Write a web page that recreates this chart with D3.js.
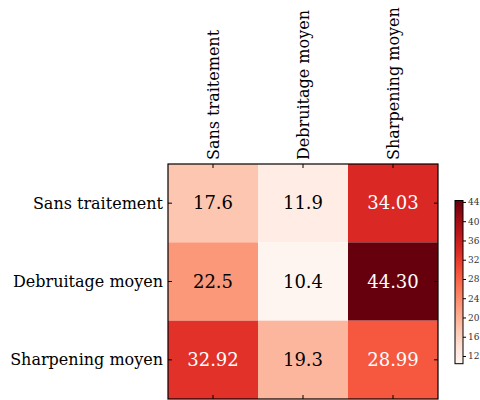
<!DOCTYPE html>
<html lang="fr">
<head>
<meta charset="UTF-8">
<title>Heatmap</title>
<script src="https://d3js.org/d3.v7.min.js"></script>
<style>
    body { margin: 0; background: #fff; }
    svg text { font-family: "DejaVu Serif", "Liberation Serif", serif; }
</style>
</head>
<body>
<div id="chart"></div>
<script>
// rows and columns
var rows = ["Sans traitement", "Debruitage moyen", "Sharpening moyen"];
var cols = ["Sans traitement", "Debruitage moyen", "Sharpening moyen"];

// one array per row
var sansTraitement = [17.6, 11.9, 34.03];
var debruitageMoyen = [22.5, 10.4, 44.30];
var sharpeningMoyen = [32.92, 19.3, 28.99];

// labels as printed in the cells
var cellText = [["17.6", "11.9", "34.03"],
                ["22.5", "10.4", "44.30"],
                ["32.92", "19.3", "28.99"]];

var colorTicks = [12, 16, 20, 24, 28, 32, 36, 40, 44];

var matrix = [sansTraitement, debruitageMoyen, sharpeningMoyen];

var width = 480, height = 400;
// note: "top" is taken by window.top
var pLeft = 168, pTop = 164, pRight = 438, pBottom = 399;

var svg = d3.select("#chart").append("svg")
    .attr("width", width)
    .attr("height", height);

var cells = [];
matrix.forEach(function(r, i) {
    r.forEach(function(v, j) {
        cells.push({row: rows[i], col: cols[j], value: v, text: cellText[i][j]});
    });
});

var vmin = d3.min(cells, function(d) { return d.value; }),
    vmax = d3.max(cells, function(d) { return d.value; });

var x = d3.scaleBand().domain(cols).range([pLeft, pRight]);
var y = d3.scaleBand().domain(rows).range([pTop, pBottom]);
var color = d3.scaleSequential(d3.interpolateReds).domain([vmin, vmax]);

svg.append("g").selectAll("rect")
    .data(cells)
    .enter().append("rect")
    .attr("x", function(d) { return x(d.col); })
    .attr("y", function(d) { return y(d.row); })
    .attr("width", x.bandwidth())
    .attr("height", y.bandwidth())
    .attr("fill", function(d) { return color(d.value); });

svg.append("g").selectAll("text")
    .data(cells)
    .enter().append("text")
    .attr("x", function(d) { return x(d.col) + x.bandwidth() / 2; })
    .attr("y", function(d) { return y(d.row) + y.bandwidth() / 2; })
    .attr("dy", "0.35em")
    .attr("text-anchor", "middle")
    .attr("font-size", 18)
    .attr("fill", function(d) { return d.value > (vmin + vmax) / 2 ? "#fff" : "#000"; })
    .text(function(d) { return d.text; });

// frame
svg.append("rect")
    .attr("x", pLeft).attr("y", pTop)
    .attr("width", pRight - pLeft).attr("height", pBottom - pTop)
    .attr("fill", "none").attr("stroke", "#000").attr("stroke-width", 1.2);

// ticks pointing inward
var tk = svg.append("g").attr("stroke", "#000").attr("stroke-width", 1);
cols.forEach(function(c) {
    var cx = x(c) + x.bandwidth() / 2;
    tk.append("line").attr("x1", cx).attr("x2", cx).attr("y1", pTop).attr("y2", pTop + 4);
    tk.append("line").attr("x1", cx).attr("x2", cx).attr("y1", pBottom).attr("y2", pBottom - 4);
});
rows.forEach(function(r) {
    var cy = y(r) + y.bandwidth() / 2;
    tk.append("line").attr("x1", pLeft).attr("x2", pLeft + 4).attr("y1", cy).attr("y2", cy);
    tk.append("line").attr("x1", pRight).attr("x2", pRight - 4).attr("y1", cy).attr("y2", cy);
});

// row labels
svg.append("g").selectAll("text")
    .data(rows)
    .enter().append("text")
    .attr("x", pLeft - 5)
    .attr("y", function(d) { return y(d) + y.bandwidth() / 2; })
    .attr("dy", "0.35em")
    .attr("text-anchor", "end")
    .attr("font-size", 16)
    .text(function(d) { return d; });

// column labels, vertical
svg.append("g").selectAll("text")
    .data(cols)
    .enter().append("text")
    .attr("transform", function(d) {
        return "translate(" + (x(d) + x.bandwidth() / 2) + "," + (pTop - 4) + ")rotate(-90)";
    })
    .attr("dy", "0.35em")
    .attr("text-anchor", "start")
    .attr("font-size", 16)
    .text(function(d) { return d; });

// colorbar
var cbX = 455, cbW = 8, cbTop = 200.5, cbBottom = 363.7;
var cbScale = d3.scaleLinear().domain([vmin, vmax]).range([cbBottom, cbTop]);

var grad = svg.append("defs").append("linearGradient")
    .attr("id", "cbgrad")
    .attr("x1", 0).attr("y1", 1).attr("x2", 0).attr("y2", 0);
d3.range(0, 1.001, 0.1).forEach(function(t) {
    grad.append("stop")
        .attr("offset", t)
        .attr("stop-color", d3.interpolateReds(t));
});

svg.append("rect")
    .attr("x", cbX).attr("y", cbTop)
    .attr("width", cbW).attr("height", cbBottom - cbTop)
    .attr("fill", "url(#cbgrad)")
    .attr("stroke", "#000").attr("stroke-width", 1);

var cbAxis = d3.axisRight(cbScale)
    .tickValues(colorTicks)
    .tickSize(3)
    .tickPadding(2);

var cbG = svg.append("g")
    .attr("transform", "translate(" + (cbX + cbW) + ",0)")
    .call(cbAxis);
cbG.select(".domain").remove();
cbG.selectAll("text")
    .attr("font-family", "DejaVu Serif, serif")
    .attr("font-size", 9)
    .attr("fill", "#333");
</script>
</body>
</html>
